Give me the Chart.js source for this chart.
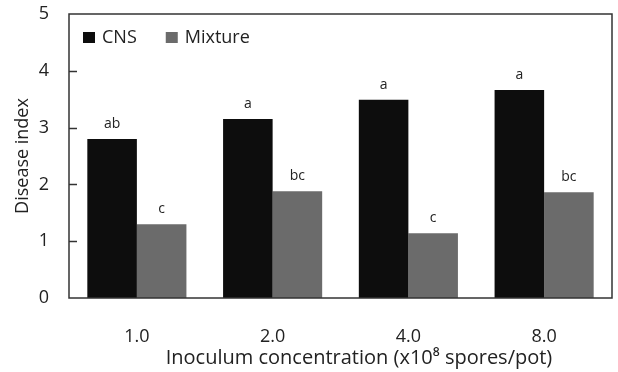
<!DOCTYPE html>
<html>
<head>
<meta charset="utf-8">
<script src="https://cdn.jsdelivr.net/npm/chart.js@4"></script>
<style>
  html, body { margin: 0; padding: 0; background: #fff; }
  #wrap { width: 618px; height: 372px; }
</style>
</head>
<body>
<div id="wrap"><canvas id="chart" width="618" height="372"></canvas></div>
<script>
const categories = ["1.0", "2.0", "4.0", "8.0"];
const seriesNames = ["CNS", "Mixture"];
const cnsValues = [2.80, 3.15, 3.49, 3.66];
const mixtureValues = [1.30, 1.88, 1.14, 1.86];
const cnsLetters = ["ab", "a", "a", "a"];
const mixtureLetters = ["c", "bc", "c", "bc"];
const yTicks = [0, 1, 2, 3, 4, 5];
const colors = ["#0d0d0d", "#6b6b6b"];

const FONT = "'Open Sans', 'Noto Sans', sans-serif";

// letters above the bars, legend, inner tick marks, box border, x title
const extras = {
  id: "extras",
  afterDatasetsDraw(chart) {
    const c = chart.ctx;
    const area = chart.chartArea;
    const y = chart.scales.y;
    const letters = [cnsLetters, mixtureLetters];
    c.save();
    c.fillStyle = "#222";
    c.font = "14px " + FONT;
    c.textAlign = "center";
    c.textBaseline = "alphabetic";
    chart.data.datasets.forEach((ds, i) => {
      chart.getDatasetMeta(i).data.forEach((bar, j) => {
        c.fillText(letters[i][j], bar.x, bar.y - 11);
      });
    });

    // legend inside plot
    c.font = "18px " + FONT;
    c.textAlign = "left";
    c.textBaseline = "middle";
    let lx = area.left + 14;
    seriesNames.forEach((name, i) => {
      c.fillStyle = colors[i];
      c.fillRect(lx, 32, 12, 11);
      c.fillStyle = "#222";
      c.fillText(name, lx + 19, 38);
      lx += 19 + c.measureText(name).width + 29;
    });

    c.strokeStyle = "#333";
    c.lineWidth = 1.5;
    yTicks.forEach(v => {
      if (v === 0 || v === 5) return;
      const py = Math.round(y.getPixelForValue(v)) + 0.5;
      c.beginPath();
      c.moveTo(area.left, py);
      c.lineTo(area.left + 8, py);
      c.stroke();
    });
    c.strokeRect(area.left, area.top, area.right - area.left, area.bottom - area.top);

    c.font = "20px " + FONT;
    c.fillStyle = "#222";
    c.textAlign = "center";
    c.fillText("Inoculum concentration (x10\u2078 spores/pot)", 359, 358);
    c.restore();
  }
};

const ctx = document.getElementById("chart").getContext("2d");

const chart = new Chart(ctx, {
  type: "bar",
  data: {
    labels: categories,
    datasets: [
      { label: seriesNames[0], data: cnsValues, backgroundColor: colors[0] },
      { label: seriesNames[1], data: mixtureValues, backgroundColor: colors[1] }
    ]
  },
  options: {
    responsive: false,
    animation: false,
    layout: { padding: { left: 0, right: 6, top: 14, bottom: 0 } },
    datasets: {
      bar: { categoryPercentage: 0.73, barPercentage: 1.0 }
    },
    plugins: {
      legend: { display: false },
      tooltip: { enabled: false }
    },
    scales: {
      x: {
        grid: { display: false },
        border: { display: false },
        ticks: { color: "#222", padding: 20, font: { family: FONT, size: 18 } },
        afterFit: s => { s.height = 74; s.paddingLeft = 0; s.paddingRight = 0; }
      },
      y: {
        min: 0,
        max: 5,
        grid: { display: false },
        border: { display: false },
        ticks: { stepSize: 1, color: "#222", padding: 12, font: { family: FONT, size: 18 } },
        title: { display: true, text: "Disease index", color: "#222", padding: { top: 12, bottom: 0 }, font: { family: FONT, size: 18 } },
        afterFit: s => { s.width = 69; s.paddingTop = 0; s.paddingBottom = 0; }
      }
    }
  },
  plugins: [extras]
});
</script>
</body>
</html>
